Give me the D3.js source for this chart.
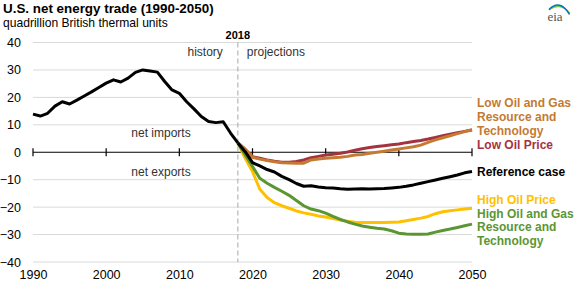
<!DOCTYPE html>
<html>
<head>
<meta charset="utf-8">
<script src="https://cdn.jsdelivr.net/npm/d3@7"></script>
<style>
  html, body { margin: 0; padding: 0; background: #fff; }
  svg { display: block; font-family: "Liberation Sans", Arial, sans-serif; }
</style>
</head>
<body>
<svg id="chart" width="576" height="288"></svg>
<script>
// ---------- data ----------
const historyYears = d3.range(1990, 2019);
const historyValues = [13.9, 13.2, 14.2, 16.8, 18.4, 17.6, 19.0, 20.5, 22.0, 23.6,
  25.2, 26.4, 25.6, 27.0, 29.1, 30.0, 29.6, 29.2, 25.8, 22.7,
  21.5, 18.4, 15.8, 13.0, 11.2, 10.8, 11.1, 7.0, 3.4];

const projYears = d3.range(2018, 2051);
const referenceCase = [3.4, 0.2, -3.8, -5.0, -6.3, -7.2, -8.8, -10.0, -11.4, -12.4, -12.2, -12.7, -12.9,
  -13.0, -13.3, -13.5, -13.4, -13.3, -13.4, -13.3, -13.2, -13.0, -12.8,
  -12.4, -11.9, -11.3, -10.7, -10.1, -9.5, -8.9, -8.3, -7.5, -7.0];
const lowOilPrice = [3.4, 1.0, -1.6, -2.2, -2.8, -3.3, -3.6, -3.6, -3.4, -2.8, -2.0, -1.5, -1.0,
  -0.7, -0.4, 0.1, 0.7, 1.3, 1.7, 2.1, 2.4, 2.7, 3.0,
  3.5, 3.9, 4.3, 4.8, 5.4, 6.0, 6.6, 7.1, 7.6, 8.1];
const lowResource = [3.4, 1.2, -1.8, -2.5, -3.0, -3.5, -3.8, -3.9, -4.0, -4.0, -2.8, -2.5, -2.2,
  -2.0, -1.8, -1.5, -1.0, -0.8, -0.4, 0.0, 0.4, 0.8, 1.2,
  1.6, 2.0, 2.6, 3.6, 4.5, 5.3, 6.0, 6.8, 7.5, 8.2];
const highOilPrice = [3.4, -2.2, -7.0, -13.5, -16.5, -18.4, -19.5, -20.4, -21.4, -22.1, -22.6, -23.2, -23.6,
  -24.2, -24.7, -25.1, -25.5, -25.6, -25.6, -25.6, -25.6, -25.5, -25.4,
  -25.0, -24.5, -24.0, -23.4, -22.4, -21.7, -21.3, -21.0, -20.7, -20.4];
const highResource = [3.4, -1.0, -5.2, -9.5, -11.3, -12.8, -14.2, -15.7, -17.6, -19.5, -20.7, -21.3, -22.2,
  -23.4, -24.5, -25.4, -26.2, -26.9, -27.3, -27.7, -28.0, -28.6, -29.5,
  -29.8, -29.9, -29.9, -29.8, -29.1, -28.5, -28.0, -27.4, -26.8, -26.2];

const xTicks = [1990, 2000, 2010, 2020, 2030, 2040, 2050];
const yTicks = [-40, -30, -20, -10, 0, 10, 20, 30, 40];
const dividerYear = 2018;

const seriesNames = ["High Oil Price", "High Oil and Gas Resource and Technology", "Low Oil Price",
  "Low Oil and Gas Resource and Technology", "Reference case"];
const seriesValues = [highOilPrice, highResource, lowOilPrice, lowResource, referenceCase];
const seriesColors = ["#ffc000", "#5b9632", "#a5333f", "#c47a32", "#000000"];

const legendLines = [
  { lines: ["Low Oil and Gas", "Resource and", "Technology"], color: "#c47a32", y: 107 },
  { lines: ["Low Oil Price"], color: "#a5333f", y: 148.5 },
  { lines: ["Reference case"], color: "#000000", y: 176 },
  { lines: ["High Oil Price"], color: "#ffc000", y: 203.6 },
  { lines: ["High Oil and Gas", "Resource and", "Technology"], color: "#5b9632", y: 217.6 }
];

// ---------- scales ----------
const svg = d3.select("#chart");
const x = d3.scaleLinear().domain([1990, 2050]).range([33, 472]);
const y = d3.scaleLinear().domain([-40, 40]).range([262, 42.5]);

// title
svg.append("text").attr("x", 3).attr("y", 13)
  .attr("font-size", 13.4).attr("font-weight", "bold").attr("fill", "#000")
  .text("U.S. net energy trade (1990-2050)");
svg.append("text").attr("x", 3).attr("y", 27)
  .attr("font-size", 12.1).attr("fill", "#000")
  .text("quadrillion British thermal units");

// gridlines
svg.append("g").selectAll("line").data(yTicks.filter(d => d !== 0)).join("line")
  .attr("x1", x(1990)).attr("x2", x(2050))
  .attr("y1", d => y(d)).attr("y2", d => y(d))
  .attr("stroke", "#d9d9d9").attr("stroke-width", 1);

// y labels
const yAxis = d3.axisLeft(y).tickValues(yTicks).tickSize(0).tickPadding(0).tickFormat(d3.format("d"));
const gy = svg.append("g").attr("transform", `translate(21,0)`).call(yAxis);
gy.select(".domain").remove();
gy.selectAll("text").attr("font-size", 12.5).attr("font-family", "Liberation Sans, Arial, sans-serif").attr("fill", "#000");

// x labels at bottom
const xAxisBottom = d3.axisBottom(x).tickValues(xTicks).tickSize(0).tickPadding(0).tickFormat(d3.format("d"));
const gxb = svg.append("g").attr("transform", `translate(0,270)`).call(xAxisBottom);
gxb.select(".domain").remove();
gxb.selectAll("text").attr("font-size", 12.5).attr("font-family", "Liberation Sans, Arial, sans-serif").attr("fill", "#000");

// zero axis with crossing ticks
const gz = svg.append("g");
gz.append("line").attr("x1", x(1990)).attr("x2", x(2050)).attr("y1", y(0)).attr("y2", y(0))
  .attr("stroke", "#000").attr("stroke-width", 1.2);
gz.selectAll("line.tick").data(xTicks).join("line").attr("class", "tick")
  .attr("x1", d => x(d)).attr("x2", d => x(d))
  .attr("y1", y(0) - 4).attr("y2", y(0) + 4)
  .attr("stroke", "#000").attr("stroke-width", 1.2);

// divider
svg.append("line").attr("x1", x(dividerYear)).attr("x2", x(dividerYear))
  .attr("y1", y(40)).attr("y2", y(-40))
  .attr("stroke", "#a6a6a6").attr("stroke-width", 1).attr("stroke-dasharray", "5,3");
svg.append("text").attr("x", x(dividerYear)).attr("y", 39).attr("text-anchor", "middle")
  .attr("font-size", 11).attr("font-weight", "bold").text("2018");
svg.append("text").attr("x", x(dividerYear) - 15).attr("y", 56).attr("text-anchor", "end")
  .attr("font-size", 12).attr("fill", "#333").text("history");
svg.append("text").attr("x", x(dividerYear) + 9).attr("y", 56).attr("text-anchor", "start")
  .attr("font-size", 12).attr("fill", "#333").text("projections");

// net imports / exports
svg.append("text").attr("x", 161).attr("y", 136.5).attr("text-anchor", "middle")
  .attr("font-size", 12).attr("fill", "#333").text("net imports");
svg.append("text").attr("x", 161).attr("y", 175.5).attr("text-anchor", "middle")
  .attr("font-size", 12).attr("fill", "#333").text("net exports");

// lines
const line = d3.line().x(d => x(d[0])).y(d => y(d[1]));
seriesValues.forEach((vals, i) => {
  svg.append("path")
    .datum(projYears.map((yr, j) => [yr, vals[j]]))
    .attr("d", line)
    .attr("fill", "none")
    .attr("stroke", seriesColors[i])
    .attr("stroke-width", 3)
    .attr("stroke-linejoin", "round");
});
svg.append("path")
  .datum(historyYears.map((yr, j) => [yr, historyValues[j]]))
  .attr("d", line)
  .attr("fill", "none").attr("stroke", "#000").attr("stroke-width", 3)
  .attr("stroke-linejoin", "round");

// legend labels
legendLines.forEach(l => {
  const t = svg.append("text").attr("x", 477).attr("y", l.y)
    .attr("font-size", 12).attr("font-weight", "bold").attr("fill", l.color);
  l.lines.forEach((s, k) => {
    t.append("tspan").attr("x", 477).attr("y", l.y + k * 13.8).text(s);
  });
});

// eia logo
const logo = svg.append("g");
const arcColors = ["#f7c600", "#8dc63f", "#00a4c9", "#0071bc"];
arcColors.forEach((c, i) => {
  const p = d3.path();
  p.moveTo(549, 10 - i * 0.2);
  p.quadraticCurveTo(560, 2 - i * 1.2, 570 - i * 0.2, 13 - i * 0.5 + i);
  logo.append("path").attr("d", p.toString()).attr("fill", "none")
    .attr("stroke", c).attr("stroke-width", 1.2);
});
logo.append("text").attr("x", 555).attr("y", 21).attr("text-anchor", "middle")
  .attr("font-size", 13).attr("font-family", "Liberation Serif, serif").attr("fill", "#555")
  .text("eia");
</script>
</body>
</html>
